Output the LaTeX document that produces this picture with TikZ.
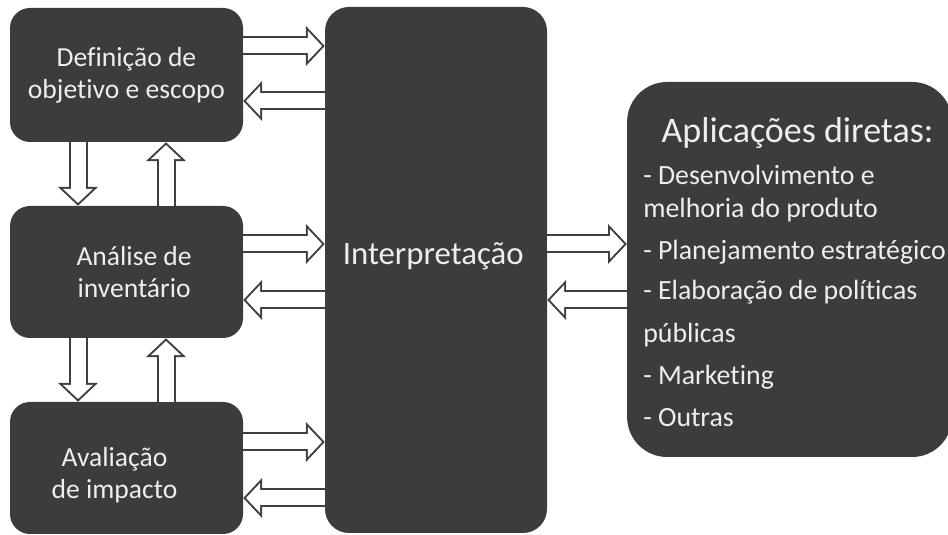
\documentclass[tikz,border=0pt]{standalone}
\usepackage{fontspec}
\setmainfont{Carlito}[Ligatures=CommonOff]
\usetikzlibrary{arrows.meta,calc}
\definecolor{boxGray}{RGB}{60,60,62}
\definecolor{boxText}{RGB}{238,238,238}
\definecolor{arrowEdge}{RGB}{64,64,64}

\tikzset{
  stage/.style={fill=boxGray,text=boxText,rounded corners=0.5cm,minimum width=5.825cm,minimum height=3.3cm,inner sep=0pt,align=center,font=\fontsize{19.6}{22.7}\selectfont},
  stagetext/.style={text=boxText,inner sep=0pt,align=center,font=\fontsize{19.6}{22.7}\selectfont},
  apptext/.style={text=boxText,inner sep=0pt,anchor=base west,font=\fontsize{19.8}{23.4}\selectfont},
  fat/.style={line width=0.375cm,draw=white,-{Triangle[length=0.351cm,width=0.747cm,line width=0pt]},shorten >=0.069cm,
    preaction={draw=arrowEdge,line width=0.475cm,-{Triangle[length=0.47cm,width=1cm,line width=0pt]},shorten >=0pt}}
}

\begin{document}
\begin{tikzpicture}
  \clip (0,0) rectangle (23.7,13.375);
  \fill[white] (0,0) rectangle (23.7,13.375);

  % phases on the left
  \node[stage,minimum height=3.35cm] (def) at (3.1625,11.5) {Definição de\\objetivo e escopo};
  \node[stage] (ana) at (3.1625,6.575) {};
  \node[stagetext] at ([xshift=0.19cm]ana.center) {Análise de\\inventário};
  \node[stage] (ava) at (3.1625,1.675) {};
  \node[stagetext] at ([xshift=-0.3cm,yshift=-0.17cm]ava.center) {Avaliação\\de impacto};

  % interpretation column
  \node[stage,minimum width=5.55cm,minimum height=13.15cm,rounded corners=0.6cm] (interp) at (10.9,6.625) {};
  \node[stagetext,font=\fontsize{23.3}{27}\selectfont] at ([xshift=-0.07cm,yshift=0.35cm]interp.center) {Interpretação};

  % applications
  \node[stage,minimum width=8.125cm,minimum height=9.375cm,rounded corners=1cm] (apl) at (19.74,6.6375) {};
  \node[text=boxText,inner sep=0pt,anchor=base,font=\fontsize{25.6}{30}\selectfont] (apltitle) at (19.94,9.8) {Aplicações diretas:};
  \foreach \txt/\y in {- Desenvolvimento e/8.75, melhoria do produto/7.925, - Planejamento estratégico/6.875,
      - Elaboração de políticas/5.875, públicas/4.8, - Marketing/3.75, - Outras/2.7}
    \node[apptext] at (16.075,\y) {\txt};

  % phases <-> interpretation
  \draw[fat] ($(def.east)+(0,0.725)$) -- ($(interp.west |- def.east)+(0,0.725)$);
  \draw[fat] ($(interp.west |- def.east)+(0,-0.65)$) -- ($(def.east)+(0,-0.65)$);
  \draw[fat] ($(ana.east)+(0,0.7)$) -- ($(interp.west |- ana.east)+(0,0.7)$);
  \draw[fat] ($(interp.west |- ana.east)+(0,-0.7)$) -- ($(ana.east)+(0,-0.7)$);
  \draw[fat] ($(ava.east)+(0,0.65)$) -- ($(interp.west |- ava.east)+(0,0.65)$);
  \draw[fat] ($(interp.west |- ava.east)+(0,-0.75)$) -- ($(ava.east)+(0,-0.75)$);

  % between phases
  \draw[fat] ($(def.south)+(-1.2125,0)$) -- ($(ana.north)+(-1.2125,0)$);
  \draw[fat] ($(ana.north)+(0.9875,0)$) -- ($(def.south)+(0.9875,0)$);
  \draw[fat] ($(ana.south)+(-1.2125,0)$) -- ($(ava.north)+(-1.2125,0)$);
  \draw[fat] ($(ava.north)+(0.9875,0)$) -- ($(ana.south)+(0.9875,0)$);

  % interpretation <-> applications
  \draw[fat] ($(interp.east)+(0,0.65)$) -- ($(apl.west |- interp.east)+(0,0.65)$);
  \draw[fat] ($(apl.west |- interp.east)+(0,-0.75)$) -- ($(interp.east)+(0,-0.75)$);
\end{tikzpicture}
\end{document}
